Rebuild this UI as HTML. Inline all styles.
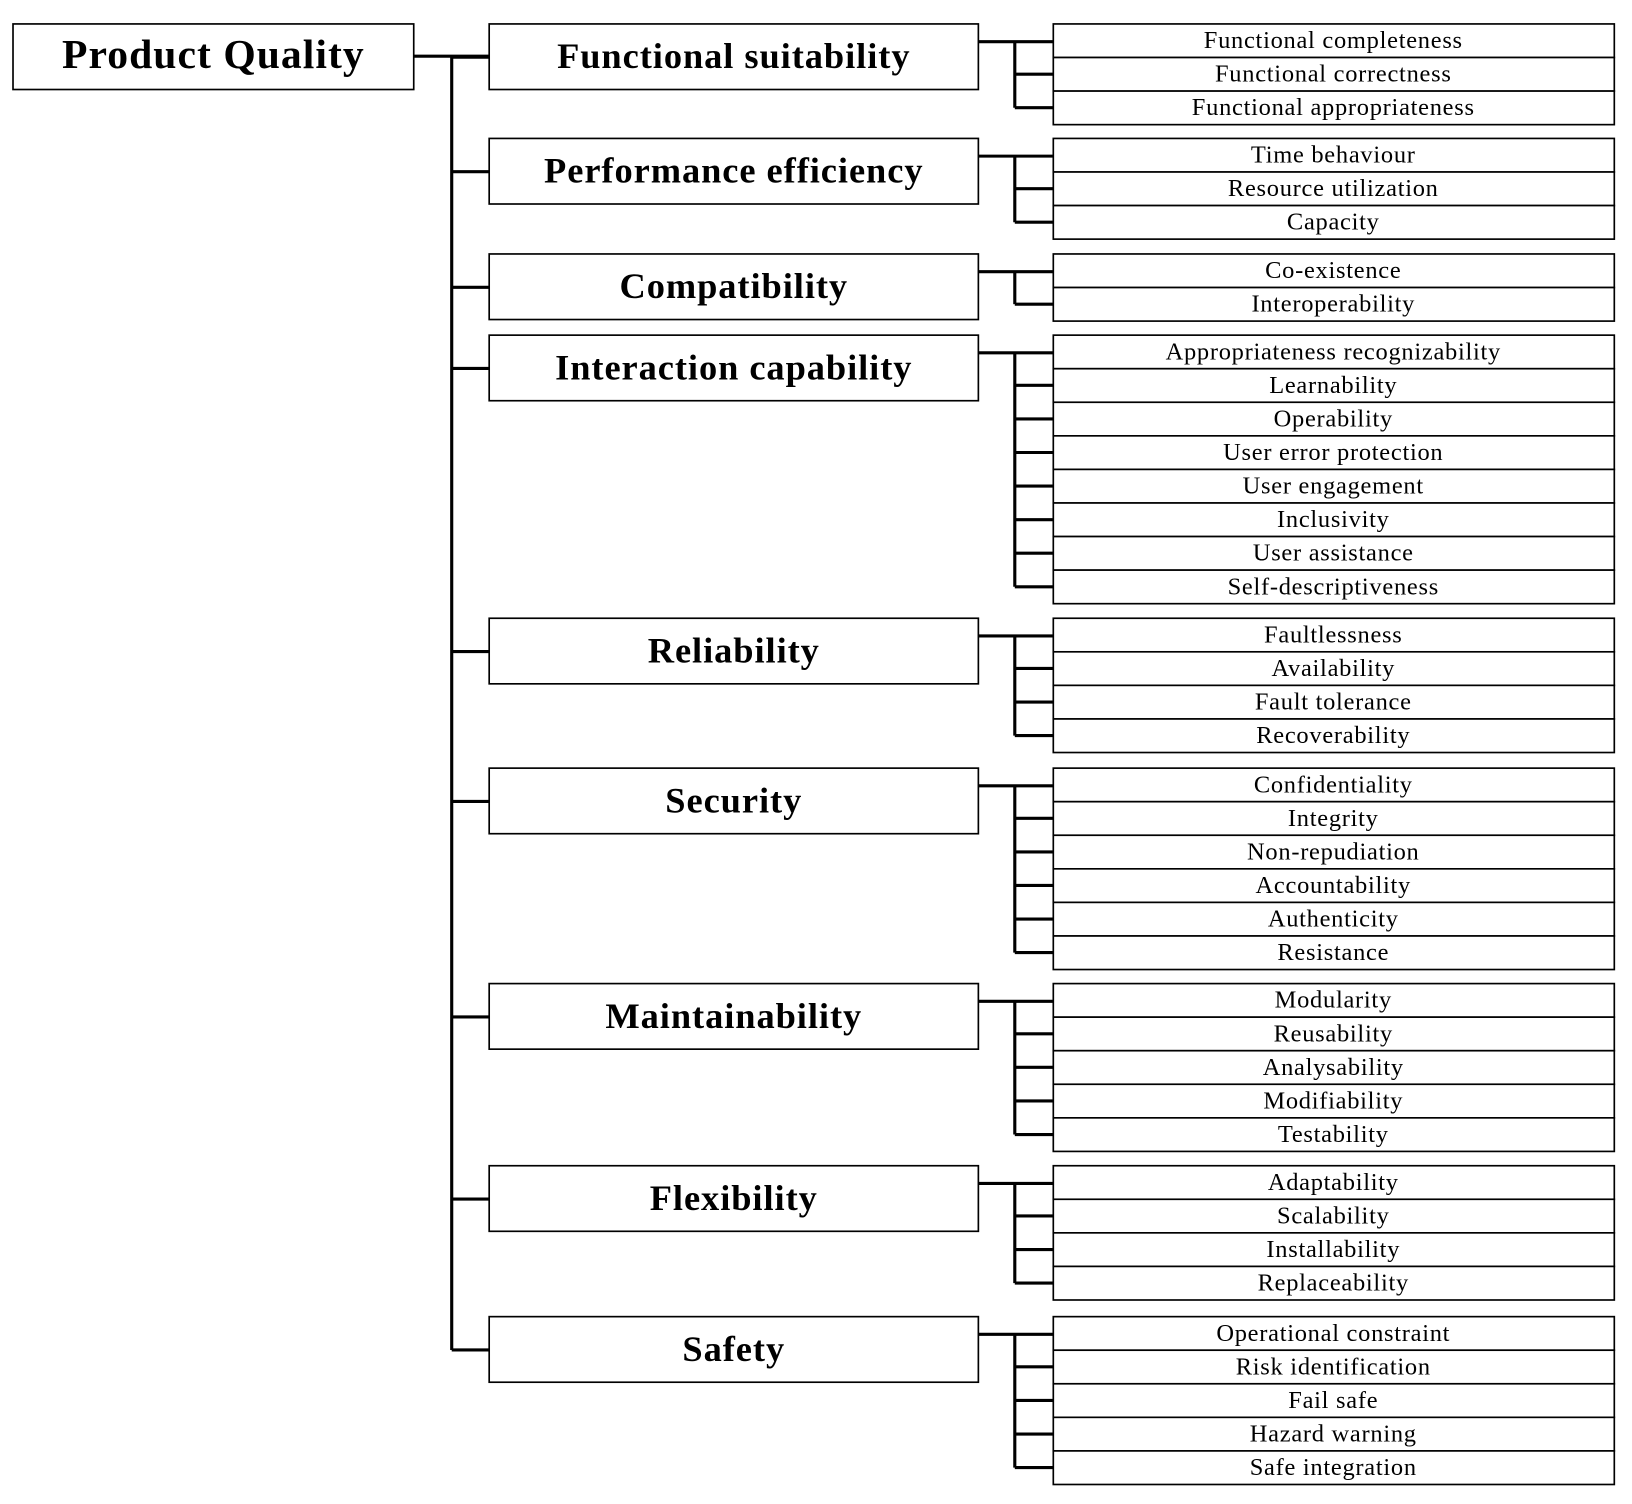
<!DOCTYPE html>
<html><head><meta charset="utf-8"><style>
html,body{margin:0;padding:0;background:#fff;}
svg{display:block;}
.m{font-family:"Liberation Serif",serif;font-weight:bold;font-size:35px;letter-spacing:0.9px;text-anchor:middle;dominant-baseline:central;}
.s{font-family:"Liberation Serif",serif;font-size:23.5px;letter-spacing:0.7px;text-anchor:middle;dominant-baseline:central;}
</style></head><body>
<svg width="1632" height="1504" viewBox="0 0 1568 1445" preserveAspectRatio="none" xmlns="http://www.w3.org/2000/svg">
<rect x="0" y="0" width="1568" height="1445" fill="#fff"/>
<rect x="12.5" y="23" width="385" height="63" fill="#fff" stroke="#000" stroke-width="1.6"/>
<text x="205" y="53" class="m" style="font-size:40px;letter-spacing:1px">Product Quality</text>
<g stroke="#000" stroke-width="3" fill="none">
<line x1="398" y1="54" x2="470" y2="54"/>
<line x1="434" y1="54" x2="434" y2="1297"/>
</g>
<g id="g"></g>
</svg>
<script>
var data=[
[23,"Functional suitability",["Functional completeness","Functional correctness","Functional appropriateness"]],
[133,"Performance efficiency",["Time behaviour","Resource utilization","Capacity"]],
[244,"Compatibility",["Co-existence","Interoperability"]],
[322,"Interaction capability",["Appropriateness recognizability","Learnability","Operability","User error protection","User engagement","Inclusivity","User assistance","Self-descriptiveness"]],
[594,"Reliability",["Faultlessness","Availability","Fault tolerance","Recoverability"]],
[738,"Security",["Confidentiality","Integrity","Non-repudiation","Accountability","Authenticity","Resistance"]],
[945,"Maintainability",["Modularity","Reusability","Analysability","Modifiability","Testability"]],
[1120,"Flexibility",["Adaptability","Scalability","Installability","Replaceability"]],
[1265,"Safety",["Operational constraint","Risk identification","Fail safe","Hazard warning","Safe integration"]]
];
var h="",R=32.25;
data.forEach(function(d){
 var t=d[0];
 h+='<line x1="434" y1="'+(t+32)+'" x2="470" y2="'+(t+32)+'" stroke="#000" stroke-width="3"/>';
 h+='<rect x="470" y="'+t+'" width="470" height="63" fill="#fff" stroke="#000" stroke-width="1.6"/>';
 h+='<text x="705" y="'+(t+31)+'" class="m">'+d[1]+'</text>';
 var n=d[2].length;
 h+='<line x1="940" y1="'+(t+17)+'" x2="1012" y2="'+(t+17)+'" stroke="#000" stroke-width="3"/>';
 var last=t+(n-1)*R+16;
 h+='<line x1="975" y1="'+(t+17)+'" x2="975" y2="'+last+'" stroke="#000" stroke-width="3"/>';
 d[2].forEach(function(s,i){
  var y=t+i*R;
  if(i>0)h+='<line x1="975" y1="'+(y+16)+'" x2="1012" y2="'+(y+16)+'" stroke="#000" stroke-width="3"/>';
  h+='<rect x="1012" y="'+y+'" width="539" height="'+R+'" fill="#fff" stroke="#000" stroke-width="1.6"/>';
  h+='<text x="1281" y="'+(y+16)+'" class="s">'+s+'</text>';
 });
});
document.getElementById("g").innerHTML=h;
</script>
</body></html>
